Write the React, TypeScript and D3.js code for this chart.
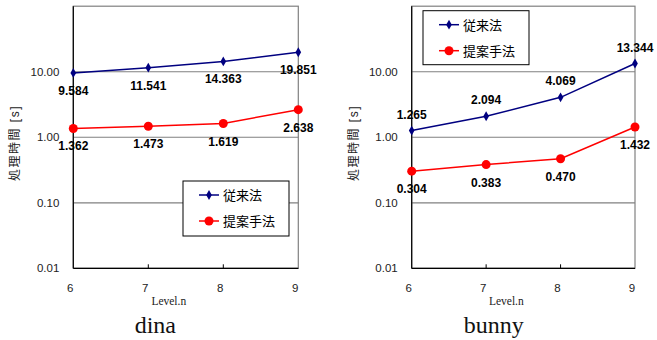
import React from 'react';
import * as d3 from 'd3';

const levels = [6, 7, 8, 9];
const yTicks = [0.01, 0.1, 1, 10];
const seriesNames = ['従来法', '提案手法'];

const dinaConventional = [9.584, 11.541, 14.363, 19.851];
const dinaProposed = [1.362, 1.473, 1.619, 2.638];
const bunnyConventional = [1.265, 2.094, 4.069, 13.344];
const bunnyProposed = [0.304, 0.383, 0.470, 1.432];

const BLUE = '#000080';
const RED = '#ff0000';
const SANS = 'Arial, "Liberation Sans", "Noto Sans CJK JP", sans-serif';
const SERIF = '"Times New Roman", "Liberation Serif", serif';

type PanelProps = {
  left: number;
  right: number;
  title: string;
  blue: number[];
  red: number[];
  blueAbove: boolean;
  legend: { x: number; y: number; w: number; h: number };
};

function Panel(props: PanelProps) {
  const top = 6.2;
  const bottom = 268.3;
  const x = d3.scaleLinear().domain([6, 9]).range([props.left, props.right]);
  const y = d3.scaleLog().domain([0.01, 100]).range([bottom, top]);
  const line = d3
    .line<number>()
    .x((d, i) => x(levels[i]))
    .y((d) => y(d));
  const fmt = d3.format('.2f');
  const diamond = d3.symbol().type(d3.symbolDiamond).size(28)();
  const mid = (props.left + props.right) / 2;
  const lg = props.legend;

  return (
    <g>
      {/* plot frame */}
      <rect x={props.left} y={top} width={props.right - props.left} height={bottom - top}
        fill="none" stroke="#808080" strokeWidth={1.2} />
      {yTicks.slice(1).map((t) => (
        <line key={t} x1={props.left} x2={props.right} y1={y(t)} y2={y(t)} stroke="#808080" strokeWidth={1.2} />
      ))}
      <line x1={props.left} x2={props.left} y1={top} y2={bottom} stroke="#000" strokeWidth={1.2} />
      <line x1={props.left} x2={props.right} y1={bottom} y2={bottom} stroke="#000" strokeWidth={1.2} />
      {levels.slice(1, 3).map((l) => (
        <line key={l} x1={x(l)} x2={x(l)} y1={bottom} y2={bottom - 4} stroke="#000" />
      ))}

      {/* tick labels */}
      {yTicks.map((t) => (
        <text key={t} x={props.left - 14} y={y(t) + 4} textAnchor="end" fontFamily={SANS} fontSize={11.5} fill="#222">
          {fmt(t)}
        </text>
      ))}
      {levels.map((l) => (
        <text key={l} x={x(l) - 3} y={292} textAnchor="middle" fontFamily={SANS} fontSize={11.5} fill="#222">
          {l}
        </text>
      ))}
      <text x={mid - 17} y={305} textAnchor="middle" fontFamily={SERIF} fontSize={11.5} fill="#222">Level.n</text>
      <text x={props.left - 58} y={143} textAnchor="middle" fontFamily={SANS} fontSize={12} letterSpacing={1.5}
        transform={`rotate(-90 ${props.left - 58} 143)`} dy={4} fill="#222">
        処理時間 [s]
      </text>
      <text x={props.left + 82} y={333} textAnchor="middle" fontFamily={SERIF} fontSize={24} fill="#111">
        {props.title}
      </text>

      {/* series */}
      <path d={line(props.blue) || ''} fill="none" stroke={BLUE} strokeWidth={1.5} />
      <path d={line(props.red) || ''} fill="none" stroke={RED} strokeWidth={1.5} />
      {props.blue.map((v, i) => (
        <path key={i} d={diamond || ''} transform={`translate(${x(levels[i])},${y(v)})`} fill={BLUE} />
      ))}
      {props.red.map((v, i) => (
        <circle key={i} cx={x(levels[i])} cy={y(v)} r={4.5} fill={RED} />
      ))}
      {props.blue.map((v, i) => (
        <text key={i} x={x(levels[i])} y={props.blueAbove ? y(v) - 12 : y(v) + 22} textAnchor="middle"
          fontFamily={SANS} fontWeight="bold" fontSize={12} fill="#000">
          {v.toFixed(3)}
        </text>
      ))}
      {props.red.map((v, i) => (
        <text key={i} x={x(levels[i])} y={y(v) + 22} textAnchor="middle"
          fontFamily={SANS} fontWeight="bold" fontSize={12} fill="#000">
          {v.toFixed(3)}
        </text>
      ))}

      {/* legend */}
      <rect x={lg.x} y={lg.y} width={lg.w} height={lg.h} fill="#fff" stroke="#000" strokeWidth={1} />
      {seriesNames.map((name, i) => {
        const ry = lg.y + 14 + i * 26;
        const color = i === 0 ? BLUE : RED;
        return (
          <g key={name}>
            <line x1={lg.x + 16} x2={lg.x + 36} y1={ry} y2={ry} stroke={color} strokeWidth={1.5} />
            {i === 0 ? (
              <path d={diamond || ''} transform={`translate(${lg.x + 26},${ry})`} fill={color} />
            ) : (
              <circle cx={lg.x + 26} cy={ry} r={4.5} fill={color} />
            )}
            <text x={lg.x + 40} y={ry + 5} fontFamily={SANS} fontSize={13} fill="#000">{name}</text>
          </g>
        );
      })}
    </g>
  );
}

export default function App() {
  return (
    <svg width={657} height={340} style={{ position: 'absolute', left: 0, top: 0, background: '#fff' }}>
      <rect width={657} height={340} fill="#fff" />
      <Panel left={73.3} right={298.3} title="dina" blue={dinaConventional} red={dinaProposed}
        blueAbove={false} legend={{ x: 183, y: 181, w: 106, h: 55 }} />
      <Panel left={411.7} right={635} title="bunny" blue={bunnyConventional} red={bunnyProposed}
        blueAbove={true} legend={{ x: 423, y: 10.7, w: 106, h: 54 }} />
    </svg>
  );
}
